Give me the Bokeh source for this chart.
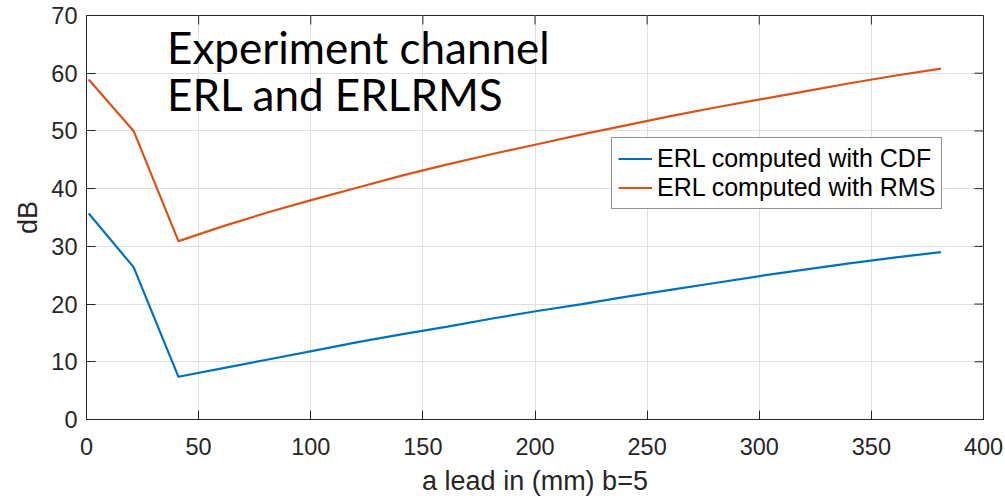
import math
from bokeh.plotting import figure
from bokeh.models import Range1d, FixedTicker, Label, Legend, LegendItem
from bokeh.embed import file_html
from bokeh.resources import INLINE

# ---- data ----
lead_mm = [1, 21, 41, 61, 81, 101, 121, 141, 161, 181, 201, 221, 241, 261, 281, 301, 321, 341, 361, 381]
erl_cdf = [35.7, 26.4, 7.4, 8.9, 10.4, 11.9, 13.4, 14.8, 16.1, 17.5, 18.8, 20.0, 21.3, 22.5, 23.7, 24.9, 26.0, 27.1, 28.1, 29.0]
erl_rms = [58.9, 50.0, 30.9, 33.5, 35.9, 38.1, 40.2, 42.3, 44.2, 46.0, 47.7, 49.4, 51.0, 52.6, 54.1, 55.5, 56.9, 58.3, 59.6, 60.8]
x_ticks = [0, 50, 100, 150, 200, 250, 300, 350, 400]
y_ticks = [0, 10, 20, 30, 40, 50, 60, 70]
series_names = ["ERL computed with CDF", "ERL computed with RMS"]
series_colors = ["#0072BD", "#D95319"]
title_lines = ["Experiment channel", "ERL and ERLRMS"]
x_label = "a lead in (mm) b=5"
y_label = "dB"

AX = "#262626"
TICK_FONT = "23.5px"
LABEL_FONT = "27px"

x_min, x_max = x_ticks[0], x_ticks[-1]
y_min, y_max = y_ticks[0], y_ticks[-1]

p = figure(width=1004, height=498, output_backend="svg", toolbar_location=None,
           x_range=Range1d(x_min, x_max), y_range=Range1d(y_min, y_max),
           min_border_left=86, min_border_right=21, min_border_top=15, min_border_bottom=76)
p.outline_line_color = AX
p.outline_line_width = 1
p.background_fill_color = "white"
p.border_fill_color = "white"

for ax in p.xaxis + p.yaxis:
    ax.axis_line_color = AX
    ax.axis_line_width = 1
    ax.major_tick_line_color = AX
    ax.major_tick_in = 9
    ax.major_tick_out = 0
    ax.minor_tick_line_color = None
    ax.major_label_text_color = AX
    ax.major_label_text_font = "Liberation Sans"
    ax.major_label_text_font_size = TICK_FONT
    ax.axis_label_text_font = "Liberation Sans"
    ax.axis_label_text_font_style = "normal"
    ax.axis_label_text_color = AX
    ax.axis_label_text_font_size = LABEL_FONT

p.xaxis.ticker = FixedTicker(ticks=x_ticks)
p.yaxis.ticker = FixedTicker(ticks=y_ticks)
p.xaxis.axis_label = x_label
p.yaxis.axis_label = y_label
p.xaxis.major_label_standoff = 18
p.xaxis.axis_label_standoff = 8
p.yaxis.major_label_standoff = 9
p.yaxis.axis_label_standoff = 5

p.xgrid.ticker = FixedTicker(ticks=x_ticks)
p.ygrid.ticker = FixedTicker(ticks=y_ticks)
p.grid.grid_line_color = "#dfdfdf"
p.grid.grid_line_width = 1

# inward ticks on the top and right edges of the box (MATLAB "box on")
p.ray(x=x_ticks, y=[y_max] * len(x_ticks), length=9, length_units="screen",
      angle=-math.pi / 2, line_color=AX, line_width=1)
p.ray(x=[x_max] * len(y_ticks), y=y_ticks, length=9, length_units="screen",
      angle=math.pi, line_color=AX, line_width=1)

r1 = p.line(lead_mm, erl_cdf, line_color=series_colors[0], line_width=2.2)
r2 = p.line(lead_mm, erl_rms, line_color=series_colors[1], line_width=2.2)

legend = Legend(items=[LegendItem(label=series_names[0], renderers=[r1]),
                       LegendItem(label=series_names[1], renderers=[r2])],
                location=(525, 210), margin=0, padding=6, spacing=0,
                glyph_width=34, glyph_height=25, label_height=25, label_standoff=5,
                label_text_font="Liberation Sans", label_text_font_size="25px",
                label_text_color="black", border_line_color=AX, border_line_width=1,
                background_fill_color="white", background_fill_alpha=1.0)
p.add_layout(legend)

p.add_layout(Label(x=35.9, y=64.5, text=title_lines[0], text_font="Lato",
                   text_font_size="44px", text_color="black", text_baseline="alphabetic"))
p.add_layout(Label(x=35.9, y=56.4, text=title_lines[1], text_font="Lato",
                   text_font_size="44px", text_color="black", text_baseline="alphabetic"))

open("out.html", "w").write(file_html(p, INLINE))
